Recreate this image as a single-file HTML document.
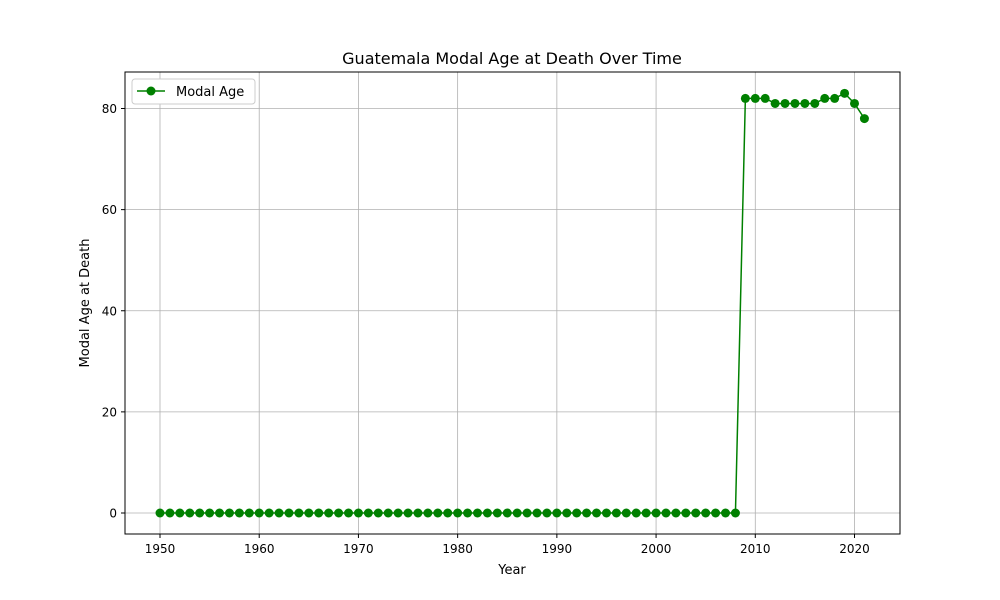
<!DOCTYPE html>
<html><head><meta charset="utf-8"><style>
body{margin:0;background:#fff;}
svg{display:block;font-family:"DejaVu Sans","Liberation Sans",sans-serif;}
</style></head><body>
<svg id="chart" width="1000" height="600" viewBox="0 0 1000 600">
<rect width="1000" height="600" fill="#fff"/>
<text x="512" y="64" font-size="16" text-anchor="middle">Guatemala Modal Age at Death Over Time</text>
<g id="grid"></g>
<g id="ticks"></g>
<g id="series"></g>
<rect x="125" y="72" width="775" height="462" fill="none" stroke="#000" stroke-width="1"/>
<text x="512" y="574" font-size="13" text-anchor="middle">Year</text>
<text transform="translate(89,303) rotate(-90)" font-size="13" text-anchor="middle">Modal Age at Death</text>
<g>
<rect x="132" y="79" width="123" height="25" fill="#fff" stroke="#ccc" rx="3"/>
<line x1="137" y1="91" x2="165" y2="91" stroke="#008000" stroke-width="1.5"/>
<circle cx="151" cy="91" r="4.5" fill="#008000"/>
<text x="176" y="96" font-size="13">Modal Age</text>
</g>
</svg>
<script>
const years=[];for(let y=1950;y<=2021;y++)years.push(y);
const values=[0,0,0,0,0,0,0,0,0,0,0,0,0,0,0,0,0,0,0,0,0,0,0,0,0,0,0,0,0,0,0,0,0,0,0,0,0,0,0,0,0,0,0,0,0,0,0,0,0,0,0,0,0,0,0,0,0,0,0,82,82,82,81,81,81,81,81,82,82,83,81,78];
const xTicks=[1950,1960,1970,1980,1990,2000,2010,2020];
const yTicks=[0,20,40,60,80];
const NS="http://www.w3.org/2000/svg";
const xs=v=>160+(v-1950)*(854.5-160)/70;
const ys=v=>513-v*(513-108.5)/80;
function mk(t,a,p){const e=document.createElementNS(NS,t);for(const k in a)e.setAttribute(k,a[k]);p.appendChild(e);return e;}
const grid=document.getElementById('grid'),ticks=document.getElementById('ticks'),ser=document.getElementById('series');
xTicks.forEach(t=>{const x=xs(t);
const g=mk('line',{x1:x,x2:x,y1:72,y2:534,stroke:'#b0b0b0','stroke-width':0.8},grid);


mk('line',{x1:x,x2:x,y1:534,y2:538,stroke:'#000'},ticks);
const tx=mk('text',{x:x,y:553,'font-size':12,'text-anchor':'middle'},ticks);tx.textContent=t;

});
yTicks.forEach(t=>{const y=ys(t);
const g=mk('line',{x1:125,x2:900,y1:y,y2:y,stroke:'#b0b0b0','stroke-width':0.8},grid);


mk('line',{x1:121,x2:125,y1:y,y2:y,stroke:'#000'},ticks);
const tx=mk('text',{x:117,y:y+4.5,'font-size':12,'text-anchor':'end'},ticks);tx.textContent=t;

});
const pl=mk('polyline',{points:years.map((y,i)=>xs(y)+','+ys(values[i])).join(' '),fill:'none',stroke:'#008000','stroke-width':1.5},ser);


years.forEach((y,i)=>{const c=mk('circle',{cx:xs(y),cy:ys(values[i]),r:4.5,fill:'#008000'},ser);

});
</script>
</body></html>
